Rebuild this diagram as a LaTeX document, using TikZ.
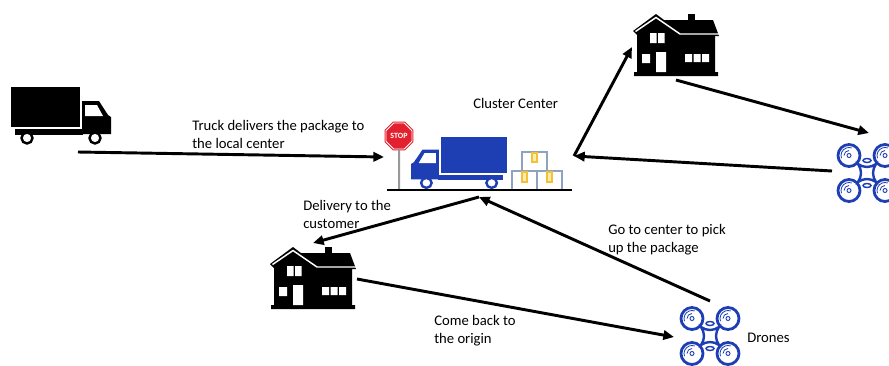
\documentclass[tikz,border=0pt]{standalone}
\usepackage{fontspec}
\setmainfont{Carlito}
\usetikzlibrary{arrows.meta,shapes.geometric}

\tikzset{
  % black house silhouette, origin at the top left corner
  house/.pic={
    \fill (0,17) -- (23,0) -- (31,6) -- (80,6) -- (86,22) -- (82,22) -- (82,58)
      -- (85,58) -- (85,62) -- (1,62) -- (1,58) -- (4,58) -- (4,21) -- cycle;
    \fill (55,0) rectangle (62,7);
    \draw[white, line width=1.1pt] (2.5,17.5) -- (23,3.5) -- (47,20) -- (87,20);
    \fill[white] (17,19) rectangle (23.5,29) (25,19) rectangle (31.5,29)
      (9,40) rectangle (17,49) (23,38) rectangle (33,58)
      (52,40) rectangle (59,48) (60.5,40) rectangle (67.5,48) (69,40) rectangle (76,48);
  },
  % box truck, origin at the top left of the cargo box
  lorry/.pic={
    \fill (0,0) rectangle (69,40);
    \fill (4,42) rectangle (72,48);
    \fill (71,14) -- (88,14) -- (97,28) -- (100,30) -- (100,47) -- (71,47) -- cycle;
    \fill[white] (74,18) -- (86,18) -- (92,29) -- (74,29) -- cycle;
    \foreach \wx in {16,84}
      \draw[line width=1.8pt, fill=white] (\wx,51) circle[radius=5.5];
  },
  % quadcopter, origin at its centre
  drone/.pic={
    \foreach \sx in {-1,1} \foreach \sy in {-1,1} {
      \draw[line width=2.1pt] (18*\sx,17.5*\sy) circle[radius=11];
      \draw[line width=0.7pt] (18*\sx,17.5*\sy) circle[radius=2];
      \draw[line width=0.6pt] (18*\sx,17.5*\sy) ++(160:8) arc[start angle=160, end angle=290, radius=8];
      \draw[line width=0.6pt] (18*\sx,17.5*\sy) ++(180:5) arc[start angle=180, end angle=270, radius=5];
    }
    \draw[line width=1.8pt] (-9,-9) .. controls (-3,-5) and (3,-5) .. (9,-9)
      .. controls (5,-3) and (5,3) .. (9,9) .. controls (3,5) and (-3,5) .. (-9,9)
      .. controls (-5,3) and (-5,-3) .. (-9,-9) -- cycle;
    \draw[line width=1.1pt] (0,-12.5) ellipse[x radius=4, y radius=2]
      (0,12.5) ellipse[x radius=4, y radius=2];
  }
}

\begin{document}
\begin{tikzpicture}[
  x=0.75pt, y=-0.75pt,
  font=\fontsize{11}{13.2}\selectfont,
  note/.style={anchor=base west, align=left, inner sep=0pt},
  arrow/.style={-{Triangle[length=8pt,width=7pt]}, line width=2.2pt, draw=black},
  stopsign/.style={regular polygon, regular polygon sides=8, minimum size=21pt,
    inner sep=0pt, fill=StopRed, draw=white, line width=0.6pt,
    preaction={draw=StopRed, line width=2.2pt},
    text=white, font=\fontsize{6}{6}\selectfont\bfseries},
  crate/.style={draw=CrateEdge, line width=1.1pt, fill=white},
  tape/.style={draw=TapeYellow, line width=0.9pt, fill=TapeYellow!35}
]
\definecolor{FleetBlue}{HTML}{1D3FB3}
\definecolor{StopRed}{HTML}{E3202E}
\definecolor{CrateEdge}{HTML}{8FA3BF}
\definecolor{TapeYellow}{HTML}{F2C232}

\useasboundingbox (0,0) rectangle (889,365);
\clip (0,0) rectangle (889,365);

% icons
\pic[color=black] at (11,87) {lorry};
\pic[color=black] at (633,14) {house};
\pic[color=black] at (270,247) {house};
\pic[color=FleetBlue] at (867,173) {drone};
\pic[color=FleetBlue] at (710,336) {drone};

% cluster center
\node[stopsign] (stop) at (399,136) {STOP};
\coordinate (pole-foot) at (399,189);
\draw[line width=1.5pt, draw=black!40] (stop.south) -- (pole-foot);
\pic[color=FleetBlue, xscale=-0.96, yscale=0.9] at (507,137) {lorry};
\draw[crate] (512,171) rectangle (537,190);
\draw[crate] (537,171) rectangle (562,190);
\draw[crate] (522,152) rectangle (547,171);
\draw[tape] (532,153) rectangle (537,162);
\draw[tape] (522,172) rectangle (527,182);
\draw[tape] (547,172) rectangle (552,182);
\coordinate (ground-l) at (387,190);
\coordinate (ground-r) at (572,190);
\draw[line width=2.2pt] (ground-l) -- (ground-r);
\node[note] (cluster) at (473,108) {Cluster Center};

% connection points
\coordinate (truck-out) at (78,152);
\coordinate (center-in) at (384,157);
\coordinate (hub) at (574,156);
\coordinate (center-low) at (479,197);
\coordinate (home-a-in) at (632,47);
\coordinate (home-a-out) at (676,80);
\coordinate (drone-a-in) at (869,133);
\coordinate (drone-a-out) at (832,171);
\coordinate (home-b-in) at (313,243);
\coordinate (home-b-out) at (357,279);
\coordinate (drone-b-in) at (674,337);
\coordinate (drone-b-out) at (710,301);

\draw[arrow] (truck-out) -- (center-in);
\draw[arrow] (hub) -- (home-a-in);
\draw[arrow] (home-a-out) -- (drone-a-in);
\draw[arrow] (drone-a-out) -- (hub);
\draw[arrow] (center-low) -- (home-b-in);
\draw[arrow] (home-b-out) -- (drone-b-in);
\draw[arrow] (drone-b-out) -- (center-low);

% two-line notes sit on the baseline of their last line
\node[note] (truck-text) at (192,148) {Truck delivers the package to\\the local center};
\node[note] (deliver-text) at (303,228) {Delivery to the\\customer};
\node[note] (back-text) at (434,343) {Come back to\\the origin};
\node[note] (pick-text) at (608,252) {Go to center to pick\\up the package};
\node[note] (drones-text) at (747,342) {Drones};
\end{tikzpicture}
\end{document}
